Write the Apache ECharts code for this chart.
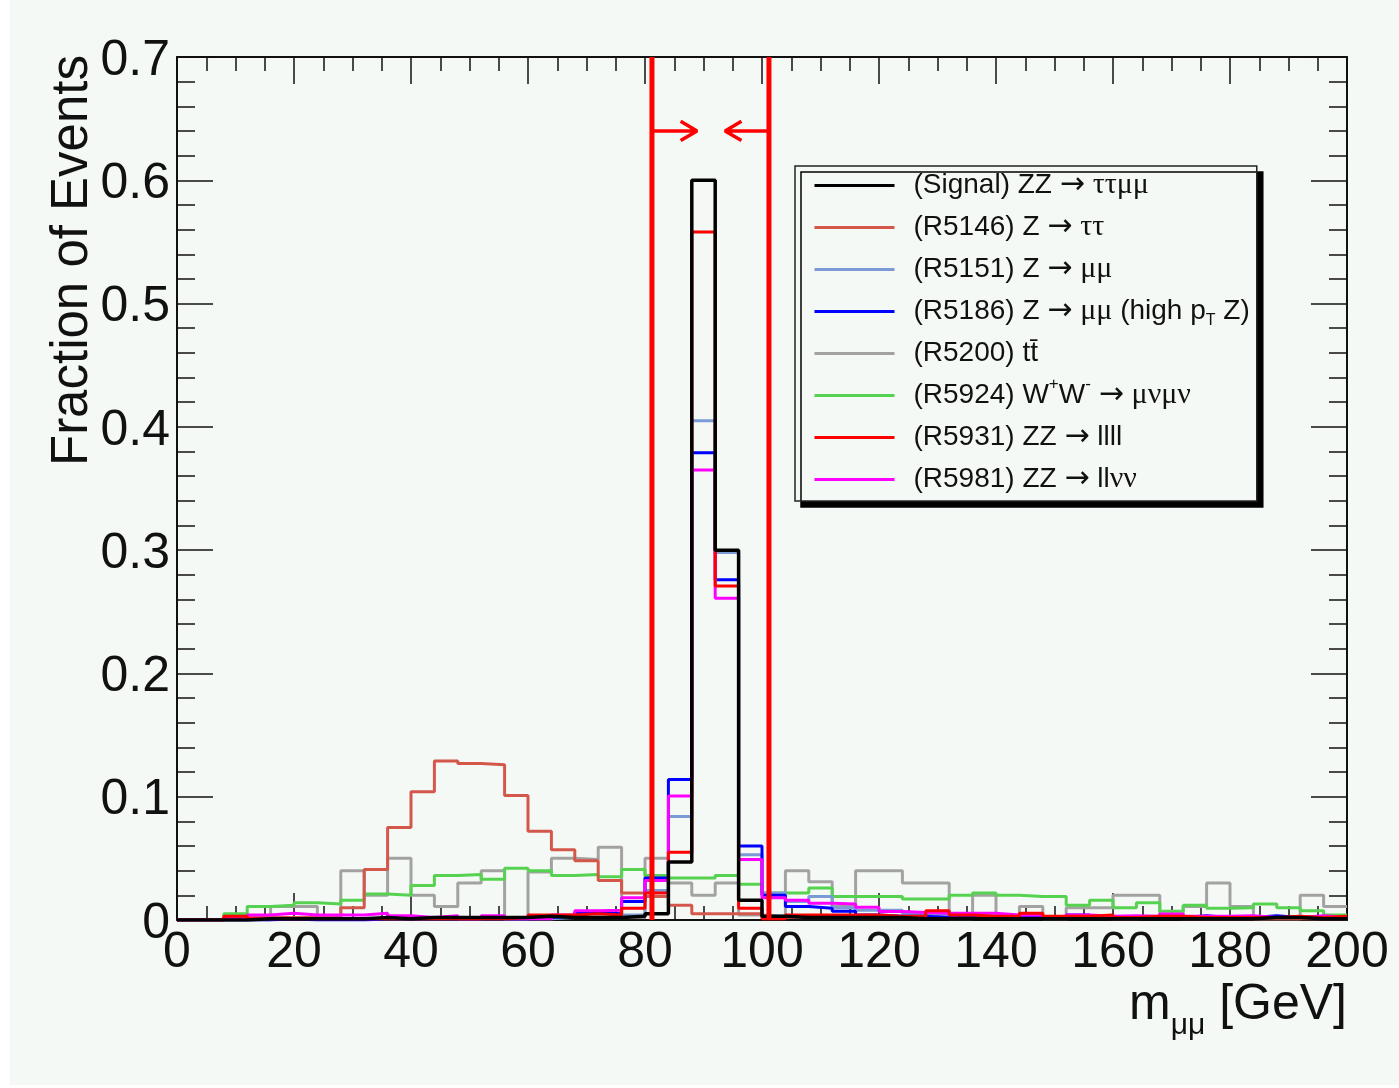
<!DOCTYPE html>
<html>
<head>
<meta charset="utf-8">
<script src="https://cdn.jsdelivr.net/npm/echarts@6/dist/echarts.min.js"></script>
<style>
html,body{margin:0;padding:0;background:#ffffff;}
#chart{position:absolute;left:10px;top:0;width:1389px;height:1085px;}
</style>
</head>
<body>
<div id="chart"></div>
<script>
// ---- data (bin lower edges, 4 GeV bins) ----
const binLow = [0,4,8,12,16,20,24,28,32,36,40,44,48,52,56,60,64,68,72,76,
  80,84,88,92,96,100,104,108,112,116,120,124,128,132,136,140,144,148,152,156,
  160,164,168,172,176,180,184,188,192,196];
const xMax = 200;

const signal = [0.000,0.000,0.000,0.001,0.001,0.001,0.001,0.001,0.002,0.001,
  0.002,0.002,0.002,0.002,0.002,0.003,0.002,0.002,0.002,0.003,
  0.005,0.047,0.600,0.300,0.016,0.003,0.002,0.002,0.002,0.002,
  0.002,0.001,0.001,0.001,0.001,0.001,0.001,0.001,0.001,0.001,
  0.001,0.001,0.001,0.001,0.001,0.001,0.002,0.002,0.001,0.001];
const zTauTau = [0.000,0.000,0.002,0.002,0.002,0.002,0.002,0.010,0.041,0.075,
  0.104,0.129,0.127,0.126,0.101,0.072,0.057,0.048,0.032,0.022,
  0.019,0.012,0.005,0.005,0.005,0.002,0.002,0.002,0.002,0.002,
  0.002,0.002,0.002,0.002,0.002,0.002,0.002,0.001,0.002,0.001,
  0.001,0.002,0.001,0.001,0.001,0.001,0.001,0.001,0.001,0.001];
const zMuMu = [0.000,0.000,0.000,0.001,0.001,0.001,0.001,0.001,0.001,0.001,
  0.001,0.001,0.001,0.001,0.001,0.001,0.002,0.002,0.002,0.004,
  0.024,0.084,0.405,0.298,0.053,0.022,0.015,0.019,0.010,0.008,
  0.008,0.005,0.004,0.003,0.003,0.003,0.002,0.002,0.002,0.003,
  0.002,0.002,0.002,0.002,0.002,0.002,0.002,0.002,0.002,0.001];
const zMuMuHighPt = [0.000,0.000,0.000,0.000,0.001,0.000,0.000,0.000,0.001,0.001,
  0.001,0.001,0.001,0.001,0.001,0.002,0.003,0.006,0.005,0.015,
  0.034,0.114,0.379,0.276,0.060,0.020,0.011,0.0095,0.007,0.004,
  0.003,0.003,0.002,0.002,0.002,0.002,0.002,0.002,0.004,0.002,
  0.002,0.002,0.002,0.0035,0.002,0.002,0.0035,0.002,0.002,0.001];
const ttbar = [0.000,0.000,0.000,0.000,0.011,0.011,0.001,0.040,0.020,0.050,
  0.020,0.011,0.030,0.040,0.001,0.039,0.050,0.049,0.059,0.002,
  0.050,0.030,0.020,0.030,0.004,0.003,0.040,0.031,0.011,0.040,
  0.040,0.030,0.030,0.001,0.020,0.002,0.011,0.001,0.010,0.010,
  0.020,0.020,0.002,0.011,0.030,0.011,0.001,0.001,0.020,0.011];
const wwMuNuMuNu = [0.000,0.000,0.005,0.011,0.012,0.014,0.013,0.016,0.021,0.020,
  0.028,0.036,0.037,0.033,0.042,0.040,0.036,0.037,0.035,0.041,
  0.036,0.034,0.034,0.036,0.029,0.022,0.022,0.026,0.019,0.019,
  0.019,0.017,0.017,0.020,0.022,0.020,0.019,0.019,0.012,0.016,
  0.010,0.014,0.007,0.012,0.0095,0.010,0.013,0.010,0.0076,0.004];
const zzLLLL = [0.000,0.000,0.003,0.001,0.001,0.001,0.001,0.001,0.001,0.001,
  0.001,0.001,0.001,0.001,0.002,0.004,0.004,0.005,0.004,0.0095,
  0.022,0.055,0.558,0.271,0.0095,0.001,0.004,0.004,0.004,0.004,
  0.003,0.003,0.0076,0.004,0.003,0.003,0.0054,0.003,0.003,0.004,
  0.002,0.003,0.003,0.002,0.002,0.002,0.002,0.003,0.002,0.003];
const zzLLNuNu = [0.000,0.000,0.002,0.004,0.0054,0.004,0.004,0.004,0.0054,0.0035,
  0.002,0.0035,0.001,0.0035,0.001,0.001,0.004,0.0076,0.008,0.018,
  0.032,0.1006,0.365,0.261,0.049,0.018,0.016,0.0135,0.013,0.0103,
  0.0068,0.006,0.0054,0.0054,0.0054,0.004,0.004,0.002,0.004,0.003,
  0.0035,0.003,0.0049,0.003,0.003,0.0035,0.002,0.002,0.0035,0.002];

const seriesNames = [
  '(Signal) ZZ → ττμμ',
  '(R5146) Z → ττ',
  '(R5151) Z → μμ',
  '(R5186) Z → μμ (high pT Z)',
  '(R5200) tt\u0304',
  '(R5924) W+W- → μνμν',
  '(R5931) ZZ → llll',
  '(R5981) ZZ → llνν'
];
const legendRich = {};
legendRich[seriesNames[0]] = '(Signal) ZZ {ar|→} {g|ττμμ}';
legendRich[seriesNames[1]] = '(R5146) Z {ar|→} {g|ττ}';
legendRich[seriesNames[2]] = '(R5151) Z {ar|→} {g|μμ}';
legendRich[seriesNames[3]] = '(R5186) Z {ar|→} {g|μμ} (high p{sub|T} Z)';
legendRich[seriesNames[4]] = '(R5200) tt\u0304';
legendRich[seriesNames[5]] = '(R5924) W{sup|+}W{sup|-} {ar|→} {g|μνμν}';
legendRich[seriesNames[6]] = '(R5931) ZZ {ar|→} llll';
legendRich[seriesNames[7]] = '(R5981) ZZ {ar|→} ll{g|νν}';

const yTitle = 'Fraction of Events';

// selection cut window (m_Z ± 10 GeV)
const cutLow = 81.19, cutHigh = 101.19, yMax = 0.7, arrowY = 0.64;

const FONT = '"Liberation Sans", Arial, Helvetica, sans-serif';
const SERIF = '"Liberation Serif", "DejaVu Serif", serif';

function hist(name, vals, color, z, width) {
  const data = binLow.map((x, i) => [x, vals[i]]);
  data.push([xMax, vals[vals.length - 1]]);
  return {
    type: 'line', name: name, data: data, step: 'end',
    symbol: 'none', showSymbol: false, silent: true, animation: false,
    xAxisIndex: 0, yAxisIndex: 0,
    lineStyle: {color: color, width: width || 3},
    itemStyle: {color: color}, z: z
  };
}
function plain(data, color, width, z) {
  return {
    type: 'line', data: data, symbol: 'none', showSymbol: false, silent: true,
    animation: false, lineStyle: {color: color, width: width}, itemStyle: {color: color}, z: z
  };
}

const series = [
  hist(seriesNames[4], ttbar, '#a2a2a2', 2),
  hist(seriesNames[5], wwMuNuMuNu, '#55d24f', 3),
  hist(seriesNames[1], zTauTau, '#d4574c', 4),
  hist(seriesNames[2], zMuMu, '#7c9bd6', 5),
  hist(seriesNames[3], zMuMuHighPt, '#0000ff', 6),
  hist(seriesNames[7], zzLLNuNu, '#ff00ff', 7),
  hist(seriesNames[6], zzLLLL, '#ff0000', 8),
  hist(seriesNames[0], signal, '#000000', 9, 3.5),
  plain([[cutLow, 0], [cutLow, yMax]], '#ff0000', 5, 20),
  plain([[cutHigh, 0], [cutHigh, yMax]], '#ff0000', 5, 20),
  plain([[cutLow, arrowY], [cutLow + 7.7, arrowY], [cutLow + 4.9, arrowY + 0.0078],
         [cutLow + 7.7, arrowY], [cutLow + 4.9, arrowY - 0.0078]], '#ff0000', 3.5, 20),
  plain([[cutHigh, arrowY], [cutHigh - 7.5, arrowY], [cutHigh - 4.7, arrowY + 0.0078],
         [cutHigh - 7.5, arrowY], [cutHigh - 4.7, arrowY - 0.0078]], '#ff0000', 3.5, 20)
];

const axisLineStyle = {color: '#111', width: 2};
const tickStyle = {color: '#111', width: 1.5};
const option = {
  backgroundColor: '#f5f9f5',
  animation: false,
  grid: {left: 167, right: 52, top: 57, bottom: 165, containLabel: false},
  graphic: [{
    type: 'text', x: 63, y: 55, rotation: Math.PI / 2, silent: true,
    style: {text: yTitle, font: '51px "Liberation Sans", Arial, sans-serif',
      fill: '#111', align: 'right', verticalAlign: 'middle'}
  }],
  legend: {
    data: seriesNames,
    orient: 'vertical',
    left: 785, top: 166,
    padding: [0, 7, 2, 18],
    itemWidth: 80, itemHeight: 14, itemGap: 3,
    selectedMode: false,
    itemStyle: {opacity: 0},
    lineStyle: {width: 3},
    backgroundColor: '#f5f9f5',
    borderColor: '#222', borderWidth: 1.5, borderRadius: 0,
    shadowColor: '#000', shadowBlur: 0, shadowOffsetX: 6, shadowOffsetY: 6,
    formatter: function (n) { return legendRich[n] || n; },
    textStyle: {
      fontFamily: FONT, fontSize: 28, color: '#111', lineHeight: 39,
      padding: [0, 0, 0, 14],
      rich: {
        ar: {fontFamily: '"DejaVu Sans", sans-serif', fontSize: 30, lineHeight: 39, color: '#111'},
        g: {fontFamily: SERIF, fontSize: 30, lineHeight: 39, color: '#111'},
        sub: {fontFamily: FONT, fontSize: 16, lineHeight: 18, padding: [21, 0, 0, 0], verticalAlign: 'top', color: '#111'},
        sup: {fontFamily: FONT, fontSize: 17, lineHeight: 18, verticalAlign: 'top', color: '#111'}
      }
    }
  },
  xAxis: [{
    type: 'value', min: 0, max: xMax, interval: 20, position: 'bottom',
    name: '{m|m}{sub|μμ}{m| [GeV]}',
    nameLocation: 'end', nameGap: 0, nameMoveOverlap: false,
    nameTextStyle: {
      align: 'right', verticalAlign: 'top', padding: [60, 0, 0, 0],
      fontFamily: FONT, fontSize: 50, color: '#111',
      rich: {
        m: {fontFamily: FONT, fontSize: 50, lineHeight: 50, verticalAlign: 'top', color: '#111'},
        sub: {fontFamily: FONT, fontSize: 30, lineHeight: 22, padding: [31, 0, 0, 0], verticalAlign: 'top', color: '#111'}
      }
    },
    axisLine: {show: true, onZero: false, lineStyle: axisLineStyle},
    axisTick: {show: true, inside: true, length: 27, lineStyle: tickStyle},
    minorTick: {show: true, splitNumber: 4, length: 14, lineStyle: tickStyle},
    splitLine: {show: false}, minorSplitLine: {show: false},
    axisLabel: {show: true, margin: 8, fontFamily: FONT, fontSize: 50, color: '#111',
      showMinLabel: true, showMaxLabel: true, hideOverlap: false}
  }, {
    type: 'value', min: 0, max: xMax, interval: 20, position: 'top',
    axisLine: {show: true, onZero: false, lineStyle: axisLineStyle},
    axisTick: {show: true, inside: true, length: 27, lineStyle: tickStyle},
    minorTick: {show: true, splitNumber: 4, length: 14, lineStyle: tickStyle},
    splitLine: {show: false}, axisLabel: {show: false}
  }],
  yAxis: [{
    type: 'value', min: 0, max: yMax, interval: 0.1, position: 'left',
    axisLine: {show: true, onZero: false, lineStyle: axisLineStyle},
    axisTick: {show: true, inside: true, length: 36, lineStyle: tickStyle},
    minorTick: {show: true, splitNumber: 5, length: 18, lineStyle: tickStyle},
    splitLine: {show: false}, minorSplitLine: {show: false},
    axisLabel: {show: true, margin: 7, fontFamily: FONT, fontSize: 50, color: '#111',
      showMinLabel: true, showMaxLabel: true, hideOverlap: false,
      rich: {v: {fontFamily: FONT, fontSize: 50, lineHeight: 50, padding: [8, 0, 0, 0], color: '#111'}},
      formatter: function (v) { return '{v|' + (v === 0 ? '0' : v.toFixed(1)) + '}'; }}
  }, {
    type: 'value', min: 0, max: yMax, interval: 0.1, position: 'right',
    axisLine: {show: true, onZero: false, lineStyle: axisLineStyle},
    axisTick: {show: true, inside: true, length: 36, lineStyle: tickStyle},
    minorTick: {show: true, splitNumber: 5, length: 18, lineStyle: tickStyle},
    splitLine: {show: false}, axisLabel: {show: false}
  }],
  series: series
};

const chart = echarts.init(document.getElementById('chart'), null, {renderer: 'canvas'});
chart.setOption(option);
</script>
</body>
</html>
